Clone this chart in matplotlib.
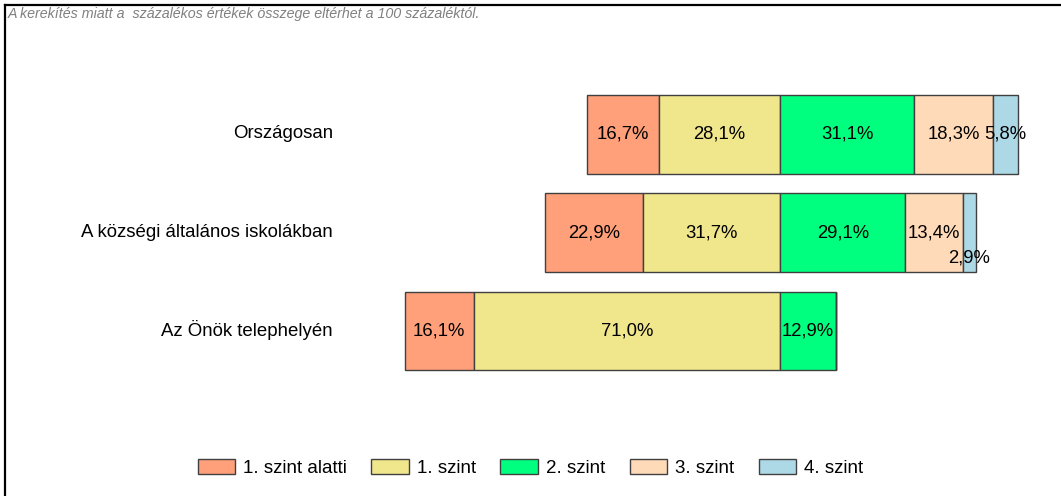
import matplotlib
matplotlib.use('Agg')
import matplotlib.pyplot as plt
from matplotlib.lines import Line2D

plt.rcParams['font.family'] = ['Liberation Sans', 'DejaVu Sans']

# data
categories = ['Országosan', 'A községi általános iskolákban', 'Az Önök telephelyén']
levels = ['1. szint alatti', '1. szint', '2. szint', '3. szint', '4. szint']
below1 = [16.7, 22.9, 16.1]
level1 = [28.1, 31.7, 71.0]
level2 = [31.1, 29.1, 12.9]
level3 = [18.3, 13.4, 0.0]
level4 = [5.8, 2.9, 0.0]
colors = ['#FFA07A', '#F0E68C', '#00FF7F', '#FFDAB9', '#ADD8E6']
note = 'A kerekítés miatt a  százalékos értékek összege eltérhet a 100 százaléktól.'

W, H = 1061, 496
fig = plt.figure(figsize=(W / 100, H / 100), dpi=100)
ax = fig.add_axes([380 / W, 1 - 380 / H, 660 / W, 295 / H])

ypos = list(range(len(categories)))
height = 0.8

# left side (below the 1/2 boundary), right side
segments = [
    (below1, [-(a + b) for a, b in zip(below1, level1)]),
    (level1, [-b for b in level1]),
    (level2, [0.0] * 3),
    (level3, level2),
    (level4, [a + b for a, b in zip(level2, level3)]),
]

for (vals, lefts), color, name in zip(segments, colors, levels):
    ax.barh(ypos, vals, left=lefts, height=height, color=color,
            edgecolor='#404040', linewidth=1, label=name)
    for y, v, l in zip(ypos, vals, lefts):
        if v <= 0:
            continue
        txt = f'{v:.1f}%'.replace('.', ',')
        dy = 0.26 if v < 4 else 0
        ax.text(l + v / 2, y + dy, txt, ha='center', va='center',
                fontsize=13.3, color='black')

ax.set_xlim((380 - 780) / 4.31, (1040 - 780) / 4.31)
ax.set_ylim(2.5, -0.5)
ax.set_yticks([y - 0.025 for y in ypos])
ax.set_yticklabels(categories, fontsize=13.4)
ax.tick_params(axis='y', length=0, pad=34)
ax.set_xticks([])
for s in ax.spines.values():
    s.set_visible(False)

fig.legend(loc='center', bbox_to_anchor=(0.5, 1 - 468 / H), ncol=5,
           frameon=False, fontsize=13.5, handlelength=2.0, handleheight=0.8,
           columnspacing=1.3, handletextpad=0.43)

fig.text(8 / W, 1 - 14 / H, note, fontsize=10.3, style='italic',
         color='#808080', va='center', ha='left')

# frame lines (top and left)
fig.add_artist(Line2D([5 / W, 1], [1 - 5 / H, 1 - 5 / H], color='black',
                      linewidth=1.6, transform=fig.transFigure))
fig.add_artist(Line2D([5 / W, 5 / W], [0, 1 - 5 / H], color='black',
                      linewidth=1.6, transform=fig.transFigure))

fig.savefig('out.png', dpi=100)
